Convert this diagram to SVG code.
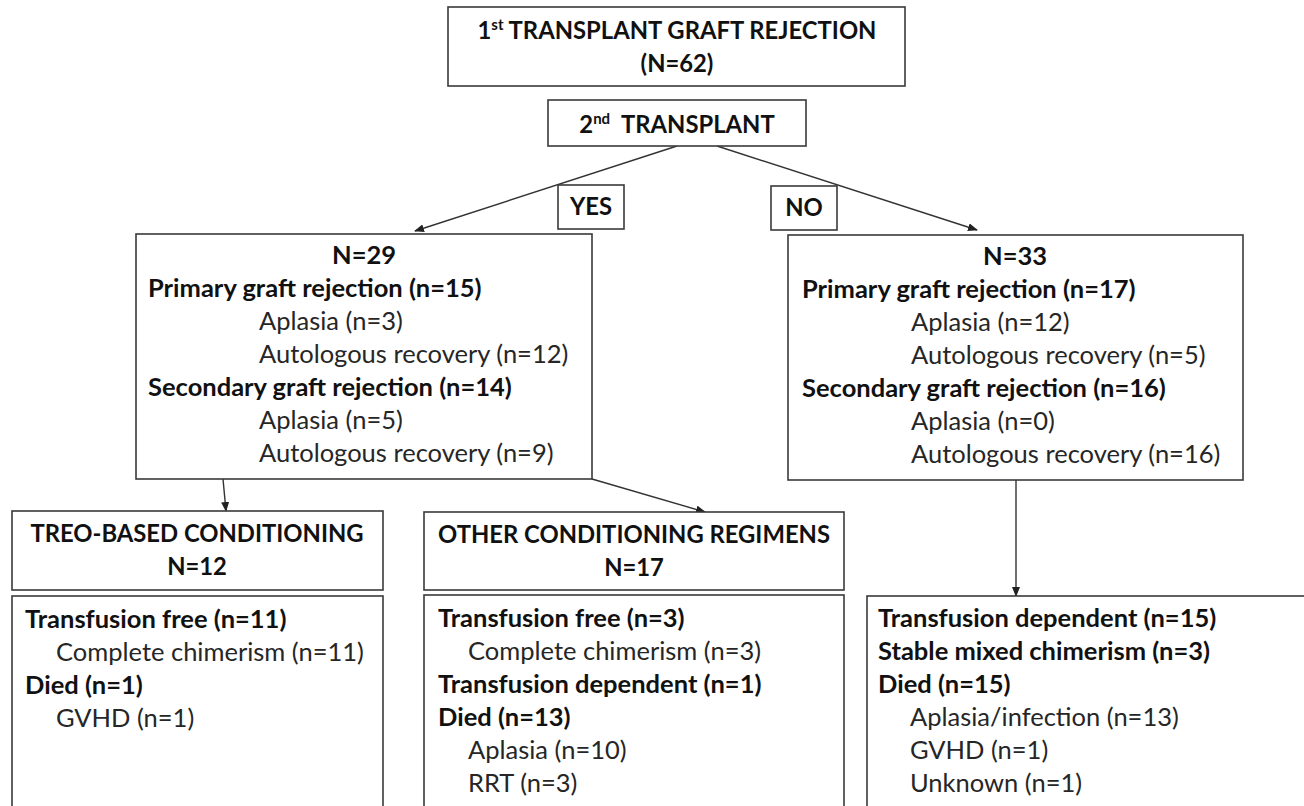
<svg xmlns="http://www.w3.org/2000/svg" width="1304" height="806" viewBox="0 0 1304 806">
<defs>
<style>
.box{fill:#fff;stroke:#3a3a3a;stroke-width:1.6}
text{font-family:Lato,"Open Sans","Liberation Sans",sans-serif;font-size:25.5px;fill:#262626}
.b{font-weight:bold;fill:#111}
.h{font-size:23.8px}
.c{text-anchor:middle}
.con{fill:none;stroke:#333;stroke-width:1.4}
</style>
<marker id="ah" markerUnits="userSpaceOnUse" markerWidth="10" markerHeight="8" refX="9" refY="4" orient="auto">
<path d="M0,0 L10,4 L0,8 Z" fill="#222"/>
</marker>
</defs>
<rect width="1304" height="806" fill="#fff"/>

<g id="connectors">
<line class="con" x1="677" y1="146" x2="415" y2="231" marker-end="url(#ah)"/>
<line class="con" x1="717" y1="146" x2="977" y2="230" marker-end="url(#ah)"/>
<line class="con" x1="223" y1="479" x2="226" y2="511" marker-end="url(#ah)"/>
<line class="con" x1="592" y1="479" x2="705" y2="512" marker-end="url(#ah)"/>
<line class="con" x1="1016" y1="480" x2="1016" y2="596" marker-end="url(#ah)"/>
</g>

<g id="n-first">
<rect class="box" x="448" y="7" width="457" height="79"/>
<text class="b c h" x="677" y="39">1<tspan font-size="15" dy="-9">st</tspan><tspan dy="9"> TRANSPLANT GRAFT REJECTION</tspan></text>
<text class="b c h" x="677" y="72">(N=62)</text>
</g>

<g id="n-second">
<rect class="box" x="548" y="100" width="258" height="46"/>
<text class="b c h" x="677" y="133" xml:space="preserve">2<tspan font-size="15" dy="-9">nd</tspan><tspan dy="9">  TRANSPLANT</tspan></text>
</g>

<g id="n-yes">
<rect class="box" x="558" y="185" width="66" height="44"/>
<text class="b c h" x="591" y="215">YES</text>
</g>

<g id="n-no">
<rect class="box" x="771" y="186" width="66" height="44"/>
<text class="b c h" x="804" y="216">NO</text>
</g>

<g id="n-yes-group">
<rect class="box" x="136" y="234" width="456" height="245"/>
<text class="b c" x="364" y="264">N=29</text>
<text class="b" x="148" y="297">Primary graft rejection (n=15)</text>
<text x="259" y="330">Aplasia (n=3)</text>
<text x="259" y="363">Autologous recovery (n=12)</text>
<text class="b" x="148" y="396">Secondary graft rejection (n=14)</text>
<text x="259" y="429">Aplasia (n=5)</text>
<text x="259" y="462">Autologous recovery (n=9)</text>
</g>

<g id="n-no-group">
<rect class="box" x="788" y="235" width="455" height="245"/>
<text class="b c" x="1015" y="265">N=33</text>
<text class="b" x="802" y="298">Primary graft rejection (n=17)</text>
<text x="911" y="331">Aplasia (n=12)</text>
<text x="911" y="364">Autologous recovery (n=5)</text>
<text class="b" x="802" y="397">Secondary graft rejection (n=16)</text>
<text x="911" y="430">Aplasia (n=0)</text>
<text x="911" y="463">Autologous recovery (n=16)</text>
</g>

<g id="n-treo">
<rect class="box" x="12" y="511" width="371" height="79"/>
<text class="b c h" x="197" y="542">TREO-BASED CONDITIONING</text>
<text class="b c h" x="197" y="575">N=12</text>
</g>

<g id="n-treo-outcome">
<rect class="box" x="12" y="596" width="371" height="230"/>
<text class="b" x="25" y="628">Transfusion free (n=11)</text>
<text x="56" y="661">Complete chimerism (n=11)</text>
<text class="b" x="25" y="694">Died (n=1)</text>
<text x="56" y="727">GVHD (n=1)</text>
</g>

<g id="n-other">
<rect class="box" x="424" y="512" width="420" height="78"/>
<text class="b c h" x="634" y="543">OTHER CONDITIONING REGIMENS</text>
<text class="b c h" x="634" y="576">N=17</text>
</g>

<g id="n-other-outcome">
<rect class="box" x="424" y="595" width="420" height="230"/>
<text class="b" x="438" y="627">Transfusion free (n=3)</text>
<text x="468" y="660">Complete chimerism (n=3)</text>
<text class="b" x="438" y="693">Transfusion dependent (n=1)</text>
<text class="b" x="438" y="726">Died (n=13)</text>
<text x="468" y="759">Aplasia (n=10)</text>
<text x="468" y="792">RRT (n=3)</text>
</g>

<g id="n-no-outcome">
<rect class="box" x="867" y="596" width="460" height="230"/>
<text class="b" x="878" y="627">Transfusion dependent (n=15)</text>
<text class="b" x="878" y="660">Stable mixed chimerism (n=3)</text>
<text class="b" x="878" y="693">Died (n=15)</text>
<text x="910" y="726">Aplasia/infection (n=13)</text>
<text x="910" y="759">GVHD (n=1)</text>
<text x="910" y="792">Unknown (n=1)</text>
</g>
</svg>
